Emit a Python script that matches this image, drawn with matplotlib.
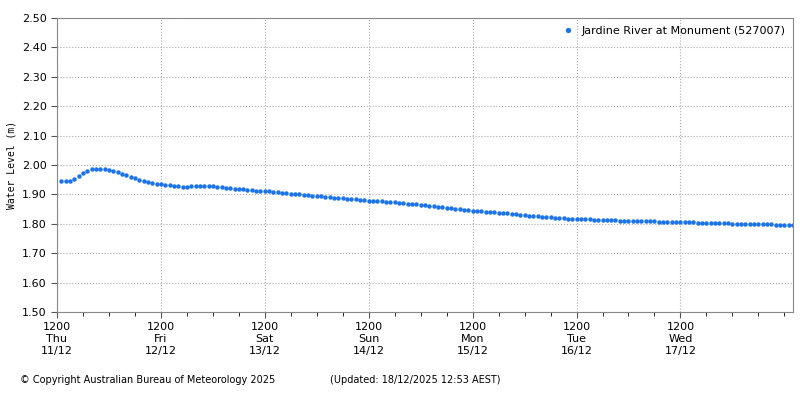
import matplotlib
matplotlib.use("Agg")
import matplotlib.pyplot as plt
import numpy as np

# hourly readings starting Thu 11/12 13:00
levels = [
    1.945, 1.945, 1.947, 1.952, 1.962, 1.972, 1.980, 1.986, 1.988, 1.988, 1.986, 1.983,
    1.979, 1.975, 1.970, 1.965, 1.960, 1.955, 1.950, 1.946, 1.942, 1.938, 1.935, 1.934,
    1.933, 1.932, 1.930, 1.928, 1.926, 1.926, 1.927, 1.928, 1.929, 1.929, 1.928, 1.927,
    1.926, 1.925, 1.923, 1.922, 1.920, 1.919, 1.917, 1.915, 1.914, 1.913, 1.912, 1.911,
    1.910, 1.909, 1.908, 1.906, 1.905, 1.903, 1.902, 1.900, 1.899, 1.897, 1.896, 1.894,
    1.893, 1.891, 1.890, 1.889, 1.888, 1.887, 1.885, 1.884, 1.883, 1.882, 1.880, 1.879,
    1.878, 1.877, 1.876, 1.875, 1.874, 1.873, 1.872, 1.870, 1.869, 1.868, 1.866, 1.865,
    1.863, 1.862, 1.860, 1.858, 1.857, 1.855, 1.853, 1.851, 1.849, 1.847, 1.846, 1.844,
    1.843, 1.842, 1.841, 1.840, 1.839, 1.838, 1.837, 1.836, 1.834, 1.832, 1.831, 1.829,
    1.828, 1.827, 1.825, 1.824, 1.823, 1.822, 1.821, 1.820, 1.819, 1.818, 1.817, 1.816,
    1.816, 1.815, 1.815, 1.814, 1.814, 1.813, 1.813, 1.812, 1.812, 1.811, 1.811, 1.810,
    1.810, 1.809, 1.809, 1.808, 1.808, 1.808, 1.807, 1.807, 1.807, 1.806, 1.806, 1.806,
    1.805, 1.805, 1.805, 1.804, 1.804, 1.804, 1.803, 1.803, 1.803, 1.802, 1.802, 1.801,
    1.801, 1.800, 1.800, 1.800, 1.799, 1.799, 1.798, 1.798, 1.798, 1.797, 1.797, 1.797,
    1.796, 1.796,
]
hours = np.arange(1, len(levels) + 1)

day_names = ["Thu", "Fri", "Sat", "Sun", "Mon", "Tue", "Wed"]
day_dates = ["11/12", "12/12", "13/12", "14/12", "15/12", "16/12", "17/12"]
tick_labels = [f"1200\n{d}\n{t}" for d, t in zip(day_names, day_dates)]

plt.rcParams["font.family"] = "DejaVu Sans"
fig = plt.figure(figsize=(8, 4), dpi=100)
ax = fig.add_axes([57 / 800, 1 - 312 / 400, 736 / 800, 294 / 400])

ax.plot(hours, levels, "o", color="#1a73e8", markersize=3.2, markeredgewidth=0,
        label="Jardine River at Monument (527007)")

ax.set_xlim(0, 170)
ax.set_ylim(1.5, 2.5)
ax.set_xticks(np.arange(0, 7) * 24)
ax.set_xticklabels(tick_labels, fontsize=8)
ax.set_xticks(np.arange(0, 171, 6), minor=True)
ax.set_yticks(np.arange(1.5, 2.51, 0.1))
ax.set_yticklabels([f"{v:.2f}" for v in np.arange(1.5, 2.51, 0.1)], fontsize=8)
ax.tick_params(axis="both", length=4, color="#555555")
ax.tick_params(axis="x", which="minor", length=3)
ax.grid(True, which="major", linestyle=":", color="#aaaaaa", linewidth=0.8)
for s in ax.spines.values():
    s.set_color("#888888")
ax.set_ylabel("Water Level (m)", fontsize=7, family="DejaVu Sans Mono")

ax.legend(loc="upper right", frameon=False, fontsize=8, handletextpad=0.2,
          markerscale=1.2, borderaxespad=0.3)

fig.text(20 / 800, 1 - 380 / 400, "© Copyright Australian Bureau of Meteorology 2025",
         fontsize=7, va="center")
fig.text(330 / 800, 1 - 380 / 400, "(Updated: 18/12/2025 12:53 AEST)",
         fontsize=7, va="center")

fig.savefig("out.png", dpi=100)
